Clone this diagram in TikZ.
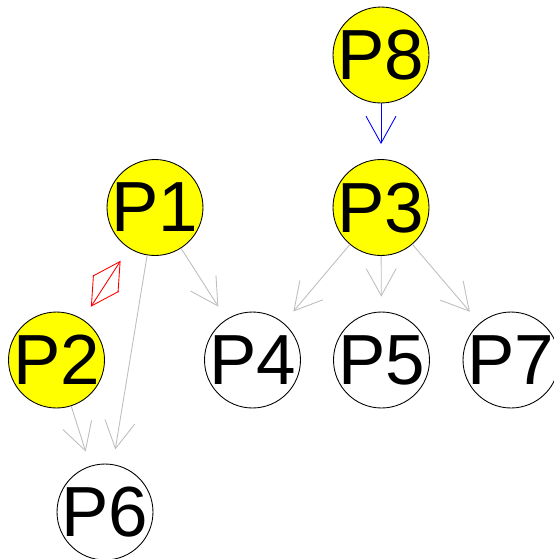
\documentclass[tikz,border=0pt]{standalone}
\usepackage{fontspec}
\setmainfont{Liberation Sans}
\usetikzlibrary{arrows.meta}
\tikzset{>={Straight Barb[length=0.54cm, width=0.6cm]}}
\definecolor{mygray}{RGB}{190, 190, 190}
\definecolor{myyellow}{RGB}{255, 255, 0}
\newcommand{\pname}[1]{\makebox[0pt]{\smash{\raisebox{-0.5\height}{#1}}}}

\begin{document}
\begin{tikzpicture}[x=0.02cm, y=-0.02cm,
  vert/.style = {circle, draw, line width = 0.5pt, minimum size = 1.92cm, inner sep = 0pt, font = \fontsize{40.4}{48}\selectfont},
  hit/.style = {vert, fill = myyellow},
  edge/.style = {line width = 0.5pt, shorten > = 0.3cm, ->}]
\useasboundingbox (0, 0) rectangle (554, 559);
% yellow vertices
\node[hit] (P8) at (381, 55) {\pname{P8}};
\node[hit] (P3) at (381, 207.5) {\pname{P3}};
\node[hit] (P1) at (155, 207.5) {\pname{P1}};
\node[hit] (P2) at (56.5, 360) {\pname{P2}};
% white vertices
\node[vert] (P4) at (252.5, 360) {\pname{P4}};
\node[vert] (P5) at (381.5, 360) {\pname{P5}};
\node[vert] (P7) at (511, 360) {\pname{P7}};
\node[vert] (P6) at (105, 512) {\pname{P6}};
% edges
\draw[edge, blue] (P8) -- (P3);
\draw[edge, red, shorten < = 0.3cm, <->] (P2) -- (P1);
\draw[edge, mygray] (P1) -- (P4);
\draw[edge, mygray] (P1) -- (P6);
\draw[edge, mygray] (P2) -- (P6);
\draw[edge, mygray] (P3) -- (P4);
\draw[edge, mygray] (P3) -- (P5);
\draw[edge, mygray] (P3) -- (P7);
\end{tikzpicture}
\end{document}
